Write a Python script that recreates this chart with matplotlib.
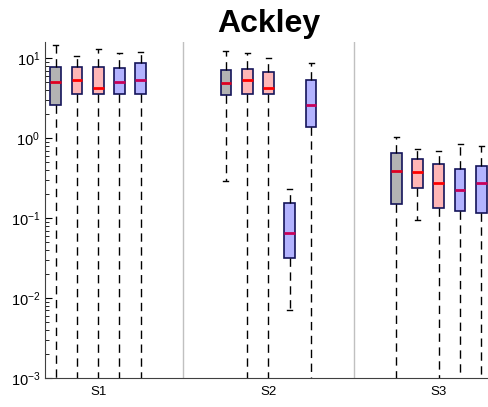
import matplotlib
matplotlib.use("Agg")
import matplotlib.pyplot as plt
import numpy as np

plt.rcParams['font.family'] = ['Liberation Sans', 'DejaVu Sans']

groups = ["S1", "S2", "S3"]
# per box: lower whisker, q1, median, q3, upper whisker (boxes listed group by group)
# 1e-8 means the whisker runs below the axis floor
whislo = [1e-8, 1e-8, 1e-8, 1e-8, 1e-8,
          0.292, 1e-8, 1e-8, 0.00714, 1e-8,
          1e-8, 0.0953, 1e-8, 1e-8, 1e-8]
q1 = [2.6, 3.58, 3.58, 3.58, 3.58,
      3.48, 3.56, 3.58, 0.0313, 1.37,
      0.1496, 0.237, 0.133, 0.124, 0.115]
med = [5.1, 5.35, 4.2, 5.1, 5.35,
       4.87, 5.35, 4.2, 0.066, 2.6,
       0.39, 0.383, 0.279, 0.226, 0.279]
q3 = [7.85, 7.85, 7.85, 7.5, 8.66,
      7.14, 7.35, 6.8, 0.157, 5.35,
      0.649, 0.551, 0.473, 0.41, 0.454]
whishi = [14.7, 10.7, 13.1, 11.5, 12.1,
          12.3, 11.7, 10.0, 0.232, 8.81,
          1.03, 0.729, 0.70, 0.841, 0.80]
kinds = ["gray", "red", "red", "blue", "blue"]

face = {"gray": "#b3b3b3", "red": "#ffb6b6", "blue": "#b3b3ff"}
medc = {"gray": "#e00020", "red": "#ff0000", "blue": "#c8005a"}

fig = plt.figure(figsize=(4.89, 4.07), dpi=100)
ax = fig.add_axes([45 / 489, 29 / 407, 447 / 489, 336 / 407])

positions = []
for g in range(len(groups)):
    for k in range(5):
        positions.append(g * 8 + 1 + k)

stats = []
for i in range(len(med)):
    stats.append(dict(whislo=whislo[i], q1=q1[i], med=med[i], q3=q3[i], whishi=whishi[i], fliers=[]))

for i, st in enumerate(stats):
    kind = kinds[i % 5]
    ax.bxp([st], positions=[positions[i]], widths=0.5, patch_artist=True,
           boxprops=dict(facecolor=face[kind], edgecolor="#14145a", linewidth=1.2),
           medianprops=dict(color=medc[kind], linewidth=2),
           whiskerprops=dict(color="black", linestyle=(0, (6, 4)), linewidth=1),
           capprops=dict(color="black", linewidth=1), capwidths=0.24,
           manage_ticks=False, zorder=3)

for sep in [7, 15]:
    ax.axvline(sep, color="#c0c0c0", linewidth=1, zorder=1)

ax.set_yscale("log")
ax.set_ylim(1e-3, 16)
ax.set_xlim(0.5, 21.5)
ax.set_xticks([3, 11, 19])
ax.set_xticklabels(groups)
ax.tick_params(axis="x", length=0, labelsize=9.5, pad=6)
ax.tick_params(axis="y", which="both", direction="in", labelsize=10.5)
ax.tick_params(axis="y", which="major", length=5)
ax.tick_params(axis="y", which="minor", length=3)
for s in ["top", "right"]:
    ax.spines[s].set_visible(False)
for s in ["left", "bottom"]:
    ax.spines[s].set_color("#404040")
ax.set_title("Ackley", fontsize=23, fontweight="bold", pad=7)

fig.savefig("out.png", dpi=100)
